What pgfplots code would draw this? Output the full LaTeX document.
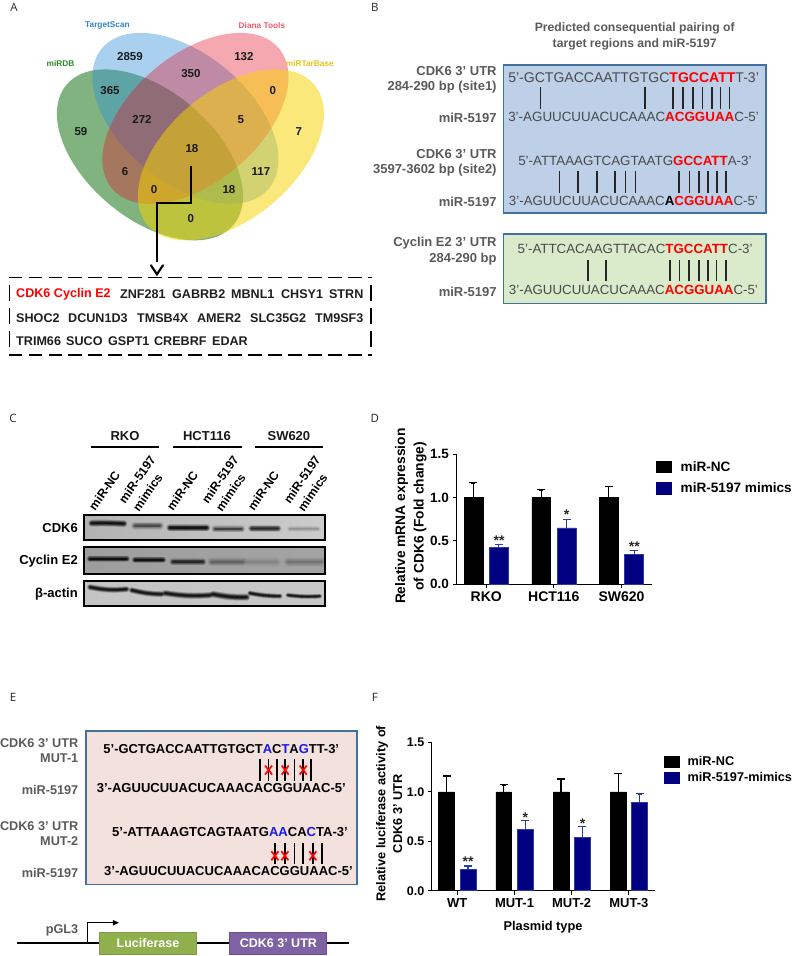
\documentclass[border=0pt]{standalone}
\usepackage{pgfplots}
\pgfplotsset{compat=1.18}
\usepackage{graphicx}
\usepackage{fontspec}
\setmainfont{Liberation Sans}
\newfontfamily\panelfont{Open Sans}
\newcommand{\fs}[1]{\fontsize{#1}{#1}\selectfont}
% seq node helper: forces the width measured on the reference
\newcommand{\seq}[5]{\node[anchor=west,inner sep=0pt,text=#4] at (#1,#2) {\resizebox{#3pt}{!}{\fs{14}\strut #5}};}
\newcommand{\rd}[1]{\textcolor{red}{\bfseries #1}}
\newcommand{\bl}[1]{\textcolor{seqblue}{#1}}
\definecolor{seqgray}{HTML}{4A4A4A}
\definecolor{labgray}{HTML}{5A5A5A}
\definecolor{seqblue}{HTML}{1A1AE6}
\definecolor{boxedge}{HTML}{41719C}
\definecolor{mynavy}{HTML}{000080}
\definecolor{navyedge}{HTML}{2A3AA8}
\definecolor{venng}{HTML}{187518}
\definecolor{vennb}{HTML}{328FD7}
\definecolor{vennp}{HTML}{E60D24}
\definecolor{venny}{HTML}{F7D300}
% blurred blot band: x1 y1 x2 y2 width opacity bend
\newcommand{\band}[7]{%
  \foreach \k/\o in {2.0/.18,1.6/.25,1.2/.35,.8/.45,.4/.5}{%
    \draw[black,line cap=round,opacity=#6*\o,line width=#5*\k pt] (#1,#2) to[bend right=#7] (#3,#4);}}
\pgfplotsset{
  panelbar/.style={
    scale only axis, axis lines=left, axis line style={-,line width=1.1pt,black},
    tick style={line width=1.1pt,black}, tick align=outside, major tick length=4pt,
    ymin=0, ymax=1.5, ytick={0,0.5,1,1.5},
    yticklabels={0.0,0.5,1.0,1.5},
    xtick pos=bottom, ytick pos=left,
    tick label style={font=\bfseries\fs{13.5}},
    /pgf/number format/assume math mode=true,
    clip=false,
    legend cell align=left,
    legend style={draw=none,fill=none,inner sep=0pt,outer sep=0pt,font=\bfseries\fs{13.6}},
  },
  ncbar/.style={ybar,bar shift=0pt,fill=black,draw=black,line width=.5pt,
    error bars/y dir=plus,error bars/y explicit,
    error bars/error bar style={line width=1.1pt,black}},
  mimbar/.style={ybar,bar shift=0pt,fill=mynavy,draw=navyedge,line width=.7pt,
    error bars/y dir=plus,error bars/y explicit,
    error bars/error bar style={line width=1.1pt,navyedge}},
  nccap/.style={forget plot,only marks,mark=-,mark size=4pt,mark options={black,line width=1.1pt}},
  mimcap/.style={forget plot,only marks,mark=-,mark size=4pt,mark options={navyedge,line width=1.1pt}},
}
\begin{document}
\begin{tikzpicture}[x=1pt,y=1pt]
\path (0,0) rectangle (792,956);

% all schematic panels measured from the top left in pixels
\begin{scope}[yshift=956pt,y=-1pt]
% panel letters
\foreach \x/\y/\t in {14/7/A,375/7/B,13/418/C,375/418/D,13/697/E,375/697/F}
  \node[font=\panelfont\fs{11.5},text=black!85] at (\x,\y) {\t};

% ---- A: venn
\fill[fill=venng,fill opacity=.55,shift={(150,154.5)},rotate=-40] (0,0) circle [x radius=109pt,y radius=64pt];
\fill[fill=vennb,fill opacity=.42,shift={(185.5,118)},rotate=-40] (0,0) circle [x radius=109pt,y radius=64pt];
\fill[fill=vennp,fill opacity=.36,shift={(195.5,118)},rotate=40] (0,0) circle [x radius=109pt,y radius=64pt];
\fill[fill=venny,fill opacity=.52,shift={(231,154.5)},rotate=40] (0,0) circle [x radius=109pt,y radius=64pt];
\foreach \x/\y/\c/\t in {107.5/25/2F86CC/TargetScan,262/25/EE5A70/Diana Tools,60.5/63/2E8B2E/miRDB,310/63/E6C21E/miRTarBase}{
  \definecolor{tmp}{HTML}{\c}
  \node[font=\bfseries\fs{8.3},text=tmp] at (\x,\y) {\t};}
\foreach \x/\y/\t in {130/56/2859,244/56/132,191/73/350,110/90/365,273/90/0,142/119/272,241/119/5,81/131/59,299/131/7,192/148/18,125/171/6,261/171/117,154/189/0,229/189/18,191/218/0}
  \node[font=\bfseries\fs{11.5},text=black!90] at (\x,\y) {\t};
\draw[line width=2.4pt,miter limit=2] (191,166) -- (191,202.5) -- (157,202.5) -- (157,262);
\draw[line width=2.2pt,line cap=round] (151,265) -- (157,274) -- (163,265);
\draw[line width=1.6pt,dash pattern=on 13.5pt off 6.5pt] (8.5,277) -- (372,277);
\draw[line width=1.6pt,dash pattern=on 13.5pt off 6.5pt] (8.5,355) -- (372,355);
\foreach \x in {9.5,371}\foreach \a/\b in {285/301,308/324,331/347}
  \draw[line width=1.4pt] (\x,\a) -- (\x,\b);
\foreach \x/\y/\t in {120/294/ZNF281,172/294/GABRB2,231/294/MBNL1,281/294/CHSY1,329/294/STRN,
  16/318/SHOC2,68/318/DCUN1D3,137/318/TMSB4X,197/318/AMER2,250/318/SLC35G2,315/318/TM9SF3,
  16/341/TRIM66,66/341/SUCO,108/341/GSPT1,154/341/CREBRF,212/341/EDAR}
  \node[anchor=west,inner sep=0pt,font=\bfseries\fs{12.6},text=black!88] at (\x,\y) {\t};
\node[anchor=west,inner sep=0pt,font=\bfseries\fs{12.6},text=red] at (16,294) {CDK6 Cyclin E2};

% ---- B: predicted pairing
\node[font=\bfseries\fs{12.2},text=labgray] at (635,28) {Predicted consequential pairing of};
\node[font=\bfseries\fs{12.2},text=labgray] at (635,44) {target regions and miR-5197};
\definecolor{bluebox}{HTML}{BDD0E7}
\definecolor{greenbox}{HTML}{D9EBCB}
\definecolor{pinkbox}{HTML}{F2E1DD}
\filldraw[fill=bluebox,draw=boxedge,line width=1.4pt] (503.5,64.5) rectangle (766.5,212.5);
\filldraw[fill=greenbox,draw=boxedge,line width=1.4pt] (503.5,233.5) rectangle (766.5,303);
\foreach \y/\t in {71/CDK6 3’ UTR,86.5/284-290 bp (site1),117.5/miR-5197,154/CDK6 3’ UTR,170/3597-3602 bp (site2),201.5/miR-5197,243/Cyclin E2 3’ UTR,259/284-290 bp,292/miR-5197}
  \node[anchor=east,inner sep=0pt,font=\bfseries\fs{13},text=labgray] at (497,\y) {\t};
\seq{508.3}{79}{250.7}{seqgray}{5’-GCTGACCAATTGTGC\rd{TGCCATT}T-3’}
\seq{508.3}{118}{250.7}{seqgray}{3’-AGUUCUUACUCAAAC\rd{ACGGUAA}C-5’}
\seq{518.3}{162}{233.4}{seqgray}{5’-ATTAAAGTCAGTAATG\rd{GCCATT}A-3’}
\seq{509}{202}{249}{seqgray}{3’-AGUUCUUACUCAAAC\textcolor{black}{\bfseries A}\rd{CGGUAA}C-5’}
\seq{517.7}{250.5}{235}{seqgray}{5’-ATTCACAAGTTACAC\rd{TGCCATT}C-3’}
\seq{509}{291.5}{249}{seqgray}{3’-AGUUCUUACUCAAAC\rd{ACGGUAA}C-5’}
\foreach \x in {540.7,645,673.3,683.3,693.3,702.7,712.3,721,730}
  \draw[line width=1.6pt,black!85] (\x,87) -- (\x,108.5);
\foreach \x in {559.7,578.3,597,615.3,625.7,635.7,679,689.7,699.3,708.3,717.3,726.3}
  \draw[line width=1.6pt,black!85] (\x,171) -- (\x,193);
\foreach \x in {588,606,670.3,679.7,689,699,708.3,717,726.3}
  \draw[line width=1.6pt,black!85] (\x,260) -- (\x,281);

% ---- C: western blots
\foreach \x/\t in {125/RKO,207/HCT116,289/SW620}
  \node[font=\bfseries\fs{13},text=black!90] at (\x,436) {\t};
\foreach \a/\b in {90.7/159.3,173/241.7,255/323}
  \draw[line width=1.8pt] (\a,447) -- (\b,447);
\foreach \dx in {0,78,159}{
  \node[anchor=base west,inner sep=0pt,rotate=55,font=\bfseries\fs{12.2}] at (95+\dx,511.5) {miR-NC};
}
\foreach \dx in {0,83,165}{
  \node[anchor=base west,inner sep=0pt,rotate=55,font=\bfseries\fs{12.2}] at (125+\dx,504) {miR-5197};
  \node[anchor=base west,inner sep=0pt,rotate=55,font=\bfseries\fs{12.2}] at (139+\dx,512) {mimics};
}
\shade[left color=black!30,right color=black!20] (84,514.7) rectangle (325,539.5);
\shade[left color=black!38,right color=black!36] (84,546.7) rectangle (325,574);
\shade[left color=black!23,right color=black!22] (84,580.7) rectangle (325,606);
\foreach \y/\t in {527.7/CDK6,561/Cyclin E2,594/β-actin}
  \node[anchor=east,inner sep=0pt,font=\bfseries\fs{13}] at (78,\y) {\t};
\band{91.7}{523}{124}{523.5}{3.4}{1}{-2}
\band{135}{525.7}{160}{525.7}{4}{.45}{0}
\band{170}{527.7}{206.7}{527.7}{3.6}{1}{0}
\band{215}{528.7}{241.7}{528.7}{3.4}{.55}{0}
\band{251.7}{528.3}{278}{528.3}{3.6}{.75}{0}
\band{290}{528.7}{318}{528.7}{3}{.18}{0}
\band{90}{558.7}{126.7}{558.7}{3.2}{1}{0}
\band{135}{559.7}{163}{559.7}{3.2}{1}{0}
\band{173}{561.7}{203}{561.7}{3.5}{.7}{0}
\band{211.7}{561.7}{243}{561.7}{4.5}{.25}{0}
\band{248}{561.7}{277}{561.7}{5}{.1}{0}
\band{288}{561.7}{321.7}{561.7}{5}{.18}{0}
\band{90}{587}{126.7}{589}{3}{1}{8}
\band{131.7}{590}{161.7}{594}{3}{1}{6}
\band{165}{593}{210}{595}{3.2}{1}{6}
\band{213}{594}{246.7}{597}{3.5}{1}{6}
\band{250}{593}{280}{596}{2.6}{1}{5}
\band{288}{595}{320}{596}{2.4}{1}{5}
\draw[line width=1.8pt] (84,514.7) rectangle (325,539.5);
\draw[line width=1.8pt] (84,546.7) rectangle (325,574);
\draw[line width=1.8pt] (84,580.7) rectangle (325,606);

% ---- E: mutants
\filldraw[fill=pinkbox,draw=boxedge,line width=1.4pt] (86,731) rectangle (357,884.5);
\foreach \y/\t in {742.7/CDK6 3’ UTR,758.3/MUT-1,790/miR-5197,825.7/CDK6 3’ UTR,841.3/MUT-2,873.3/miR-5197}
  \node[anchor=east,inner sep=0pt,font=\bfseries\fs{12.7},text=labgray] at (78.5,\y) {\t};
\seq{103.3}{751}{235.7}{black}{\bfseries 5’-GCTGACCAATTGTGCT\bl{A}C\bl{T}A\bl{G}TT-3’}
\seq{96.7}{790}{249}{black}{\bfseries 3’-AGUUCUUACUCAAACACGGUAAC-5’}
\seq{112}{833.7}{235.7}{black}{\bfseries 5’-ATTAAAGTCAGTAATG\bl{AA}CA\bl{C}TA-3’}
\seq{104}{873}{248.7}{black}{\bfseries 3’-AGUUCUUACUCAAACACGGUAAC-5’}
\foreach \x in {260,268.7,277,285.3,294.7,303.3,311}
  \draw[line width=1.4pt] (\x,759.3) -- (\x,780.7);
\foreach \x in {275,285,294.7,303.3,313,322}
  \draw[line width=1.4pt] (\x,842.7) -- (\x,864.3);
\foreach \x/\y in {268.7/770,285.3/770,303.3/770,275/855.7,285/855.7,313/855.7}
  \draw[red,line width=1.7pt] (\x-3.5,\y-4.5) -- (\x+3.5,\y+4.5) (\x-3.5,\y+4.5) -- (\x+3.5,\y-4.5);
\draw[line width=2.2pt] (16.7,942.7) -- (349.3,942.7);
\draw[line width=1.1pt] (87.3,942.7) -- (87.3,922.7) -- (113,922.7);
\fill (119,922.7) -- (113,920) -- (113,925.4) -- cycle;
\node[anchor=east,inner sep=0pt,font=\bfseries\fs{12.7},text=labgray] at (78.5,930.7) {pGL3};
\definecolor{lucbox}{HTML}{8FB04D}
\definecolor{lucedge}{HTML}{7F9E45}
\definecolor{utrbox}{HTML}{7E62A3}
\definecolor{utredge}{HTML}{6A5090}
\filldraw[fill=lucbox,draw=lucedge,line width=1pt] (99.5,932) rectangle (196.5,954);
\filldraw[fill=utrbox,draw=utredge,line width=1pt] (230,932) rectangle (326.5,954);
\node[font=\bfseries\fs{12.5},text=white] at (148,943.3) {Luciferase};
\node[font=\bfseries\fs{12.5},text=white] at (278.5,943.3) {CDK6 3’ UTR};
\end{scope}

% ---- D: mRNA expression
\begin{axis}[panelbar,at={(456.7pt,372pt)},anchor=south west,
  width=195.6pt,height=130pt,
  xmin=0.561,xmax=3.452,xtick={1,2,3},xticklabels={RKO,HCT116,SW620},
  x tick label style={font=\bfseries\fs{14}},
  ylabel={Relative mRNA expression\\of CDK6 (Fold change)},
  y label style={at={(axis description cs:-0.2336,0.523)},anchor=center,align=center,font=\bfseries\fontsize{13.8}{18.3}\selectfont},
  legend style={at={(rel axis cs:1.019,0.9615)},anchor=north west,row sep=6.5pt,
    /tikz/every odd column/.append style={column sep=7pt}},
  legend image code/.code={\fill[#1,draw=none] (0pt,-6.4pt) rectangle (16pt,6.4pt);},
]
\addplot[ncbar,bar width=18.7pt] coordinates {
  (0.812,1.0) +- (0,0.17)
  (1.812,1.0) +- (0,0.09)
  (2.812,1.0) +- (0,0.13)};
\addplot[mimbar,bar width=18.7pt] coordinates {
  (1.188,0.42) +- (0,0.04)
  (2.188,0.65) +- (0,0.10)
  (3.188,0.34) +- (0,0.05)};
\addplot[nccap] coordinates {(0.812,1.17) (1.812,1.09) (2.812,1.13)};
\addplot[mimcap] coordinates {(1.188,0.46) (2.188,0.75) (3.188,0.39)};
\legend{miR-NC,miR-5197 mimics}
\node[font=\bfseries\fs{14},text=black!85] at (axis cs:1.19,0.50) {**};
\node[font=\bfseries\fs{14},text=black!85] at (axis cs:2.19,0.80) {*};
\node[font=\bfseries\fs{14},text=black!85] at (axis cs:3.19,0.43) {**};
\end{axis}

% ---- F: luciferase activity
\begin{axis}[panelbar,at={(432pt,65.3pt)},anchor=south west,
  width=223pt,height=148.4pt,
  xmin=0.554,xmax=4.453,xtick={1,2,3,4},xticklabels={WT,MUT-1,MUT-2,MUT-3},
  tick label style={font=\bfseries\fs{12.5}},
  x tick label style={font=\bfseries\fs{13}},
  ylabel={Relative luciferase activity of\\CDK6 3' UTR},
  y label style={at={(axis description cs:-0.1915,0.52)},anchor=center,align=center,font=\bfseries\fontsize{12.8}{16.7}\selectfont},
  xlabel={Plasmid type},
  x label style={at={(axis description cs:0.499,-0.2466)},anchor=center,font=\bfseries\fs{12.8}},
  legend style={at={(rel axis cs:1.04,0.917)},anchor=north west,row sep=1.2pt,font=\bfseries\fs{12.7},
    /tikz/every odd column/.append style={column sep=6pt}},
  legend image code/.code={\fill[#1,draw=none] (0pt,-6pt) rectangle (16pt,6pt);},
]
\addplot[ncbar,bar width=15.8pt] coordinates {
  (0.813,1.0) +- (0,0.16)
  (1.813,1.0) +- (0,0.07)
  (2.813,1.0) +- (0,0.13)
  (3.813,1.0) +- (0,0.19)};
\addplot[mimbar,bar width=15.8pt] coordinates {
  (1.187,0.216) +- (0,0.034)
  (2.187,0.617) +- (0,0.093)
  (3.187,0.536) +- (0,0.114)
  (4.187,0.897) +- (0,0.083)};
\addplot[nccap] coordinates {(0.813,1.16) (1.813,1.07) (2.813,1.13) (3.813,1.19)};
\addplot[mimcap] coordinates {(1.187,0.25) (2.187,0.71) (3.187,0.65) (4.187,0.98)};
\legend{miR-NC,miR-5197-mimics}
\node[font=\bfseries\fs{14},text=black!85] at (axis cs:1.19,0.29) {**};
\node[font=\bfseries\fs{14},text=black!85] at (axis cs:2.19,0.74) {*};
\node[font=\bfseries\fs{14},text=black!85] at (axis cs:3.19,0.68) {*};
\end{axis}
\end{tikzpicture}
\end{document}
